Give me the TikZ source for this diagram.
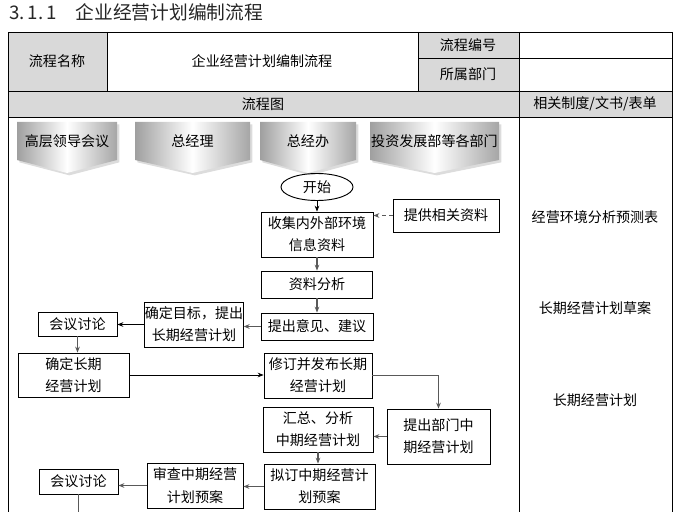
\documentclass[tikz,border=0pt]{standalone}
\usepackage{fontspec}
\setmainfont{Noto Sans CJK SC}
\usetikzlibrary{shapes.geometric,shadows,arrows.meta}
\definecolor{cellgray}{RGB}{217,217,217}

\begin{document}
\begin{tikzpicture}[x=0.03cm,y=-0.03cm,
        every node/.style={font=\fontsize{12}{19}\selectfont},
        box/.style={draw,line width=0.8pt,align=center,inner sep=0pt},
        lanefill/.style={left color=gray!75,right color=gray!70,middle color=white,
            drop shadow={shadow xshift=2pt,shadow yshift=-2pt,fill=gray!55}},
        arr/.style={-{Stealth[length=5pt,width=4pt]},draw=gray!70!black,line width=1pt},
        arrb/.style={-{Stealth[length=5pt,width=4pt]},line width=0.6pt}]
        \useasboundingbox (0,0) rectangle (675,512);

        %%%%%%%%%% Titolo %%%%%%%%%%
        \node[anchor=west,font=\fontsize{16}{18}\selectfont,text=black!85] (title) at (5,12) {3.\,1.\,1\hspace{1em}企业经营计划编制流程};

        %%%%%%%%%% Tabella %%%%%%%%%%
        \fill[cellgray] (8,32) rectangle (107,91);
        \fill[cellgray] (418,32) rectangle (519,91);
        \fill[cellgray] (8,91) rectangle (672,117);
        \draw[line width=0.8pt] (8,512) -- (8,32) -- (672,32) -- (672,512);
        \draw[line width=0.8pt] (8,91) -- (672,91);
        \draw[line width=0.8pt] (8,117) -- (672,117);
        \draw[line width=0.8pt] (418,58) -- (672,58);
        \draw[line width=0.8pt] (107,32) -- (107,91);
        \draw[line width=0.8pt] (418,32) -- (418,91);
        \draw[line width=0.8pt] (519,32) -- (519,512);
        \node (namelabel) at (57,61) {流程名称};
        \node (nametext) at (262,61) {企业经营计划编制流程};
        \node (codelabel) at (468,45) {流程编号};
        \node (deptlabel) at (468,74) {所属部门};
        \node (chartlabel) at (263,104) {流程图};
        \node (doclabel) at (595,104) {相关制度/文书/表单};

        %%%%%%%%%% Corsie %%%%%%%%%%
        \path[lanefill] (17,122) -- (117,122) -- (117,160) -- (67,173) -- (17,160) -- cycle;
        \path[lanefill] (135,122) -- (250,122) -- (250,160) -- (192.5,173) -- (135,160) -- cycle;
        \path[lanefill] (260,122) -- (356,122) -- (356,160) -- (308,173) -- (260,160) -- cycle;
        \path[lanefill] (370,122) -- (499,122) -- (499,160) -- (434.5,173) -- (370,160) -- cycle;
        \node (lane1) at (67,141) {高层领导会议};
        \node (lane2) at (192.5,141) {总经理};
        \node (lane3) at (308,141) {总经办};
        \node (lane4) at (434.5,141) {投资发展部等各部门};

        %%%%%%%%%% Passi %%%%%%%%%%
        \node[box,ellipse,minimum width=2.16cm,minimum height=0.81cm] (start) at (317,187) {开始};
        \node[box,minimum width=3.36cm,minimum height=1.35cm] (collect) at (317,234.5) {收集内外部环境\\信息资料};
        \node[box,minimum width=3.18cm,minimum height=0.99cm] (provide) at (446,215.5) {提供相关资料};
        \node[box,minimum width=3.33cm,minimum height=0.81cm] (analyze) at (317,284.5) {资料分析};
        \node[box,minimum width=3.36cm,minimum height=0.81cm] (advise) at (317,326.5) {提出意见、建议};
        \node[box,minimum width=2.88cm,minimum height=1.35cm] (target) at (194,324.5) {确定目标，提出\\长期经营计划};
        \node[box,minimum width=2.37cm,minimum height=0.72cm] (meet1) at (77.5,324) {会议讨论};
        \node[box,minimum width=3.33cm,minimum height=1.32cm] (longplan) at (73.5,375) {确定长期\\经营计划};
        \node[box,minimum width=3.24cm,minimum height=1.35cm] (issue) at (318,375.5) {修订并发布长期\\经营计划};
        \node[box,minimum width=3.09cm,minimum height=1.65cm] (deptplan) at (438.5,436.5) {提出部门中\\期经营计划};
        \node[box,minimum width=3.30cm,minimum height=1.35cm] (summary) at (318,429.5) {汇总、分析\\中期经营计划};
        \node[box,minimum width=3.33cm,minimum height=1.35cm] (draft) at (319.5,486.5) {拟订中期经营计\\划预案};
        \node[box,minimum width=2.88cm,minimum height=1.35cm] (review) at (195,485.5) {审查中期经营\\计划预案};
        \node[box,minimum width=2.37cm,minimum height=0.75cm] (meet2) at (78.5,481.5) {会议讨论};
        \coordinate (cut) at (78.5,512);

        %%%%%%%%%% Documenti %%%%%%%%%%
        \node (doc1) at (595,217) {经营环境分析预测表};
        \node (doc2) at (595,308) {长期经营计划草案};
        \node (doc3) at (595,400) {长期经营计划};

        %%%%%%%%%% Frecce %%%%%%%%%%
        \draw[arrb] (start.south) -- (start.south |- collect.north);
        \draw[arr,dashed] (provide.west) -- (provide.west -| collect.east);
        \draw[arr] (collect) -- (analyze);
        \draw[arr] (analyze) -- (advise);
        \draw[arr,line width=1.6pt] (advise.west) -- (advise.west -| target.east);
        \draw[arrb] (target.west) -- (target.west -| meet1.east);
        \draw[arr] (meet1.south) -- (meet1.south |- longplan.north);
        \draw[arrb] (longplan.east) -- (longplan.east -| issue.west);
        \draw[arr] (issue.east) -| (deptplan.north);
        \draw[arr] (deptplan.west) -- (deptplan.west -| summary.east);
        \draw[arr] (summary.south) -- (summary.south |- draft.north);
        \draw[arr] (draft.west) -- (draft.west -| review.east);
        \draw[arr] (review.west) -- (review.west -| meet2.east);
        \draw[draw=gray!70!black,line width=1pt] (meet2.south) -- (cut);
    \end{tikzpicture}
\end{document}
